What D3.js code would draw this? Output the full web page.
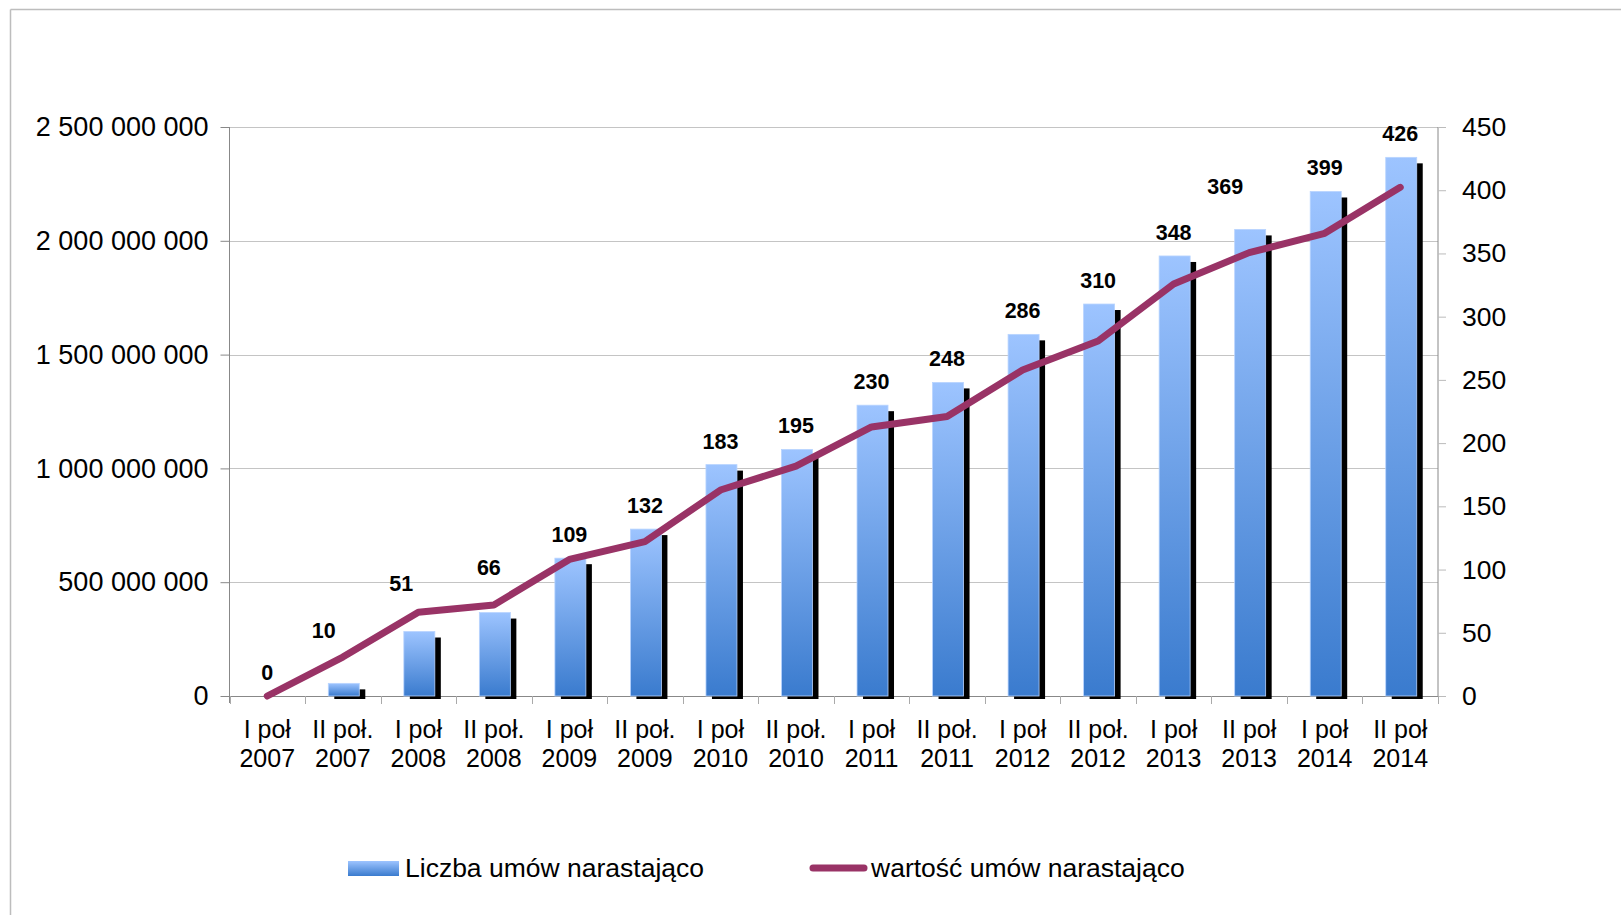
<!DOCTYPE html>
<html>
<head>
<meta charset="utf-8">
<script src="https://cdn.jsdelivr.net/npm/d3@7"></script>
<style>
  html, body { margin: 0; padding: 0; background: #fff; }
  svg { display: block; }
  text { font-family: "Liberation Sans", Arial, sans-serif; fill: #000; }
</style>
</head>
<body>
<svg id="chart" width="1621" height="915"></svg>
<script>
// ---- data ----
const categories = ["I poł 2007","II poł. 2007","I poł 2008","II poł. 2008","I poł 2009","II poł. 2009",
  "I poł 2010","II poł. 2010","I poł 2011","II poł. 2011","I poł 2012","II poł. 2012",
  "I poł 2013","II poł 2013","I poł 2014","II poł 2014"];
const liczbaUmow = [0,10,51,66,109,132,183,195,230,248,286,310,348,369,399,426];
const wartoscUmow = [0,171e6,368e6,400e6,600e6,678e6,905e6,1010e6,1182e6,1228e6,1432e6,1560e6,1810e6,1948e6,2033e6,2235e6];
const leftTicks = [0,500e6,1000e6,1500e6,2000e6,2500e6];
const rightTicks = [0,50,100,150,200,250,300,350,400,450];
const seriesNames = ["Liczba umów narastająco","wartość umów narastająco"];

// ---- layout / style ----
const svg = d3.select("#chart");
const plot = {left: 229.5, right: 1438, top: 127, bottom: 696};
// manual label nudges (px) as in the original
const labelNudge = {1: [-19,-29], 2: [-17,-25], 3: [-5,-22], 13: [-24,-19]};

const x = d3.scaleBand().domain(categories).range([plot.left, plot.right]).padding(0);
const yL = d3.scaleLinear().domain([0, 2500e6]).range([plot.bottom, plot.top]);
const yR = d3.scaleLinear().domain([0, 450]).range([plot.bottom, plot.top]);

const defs = svg.append("defs");
const grad = defs.append("linearGradient").attr("id","barGrad").attr("x1",0).attr("y1",0).attr("x2",0).attr("y2",1);
grad.append("stop").attr("offset","0%").attr("stop-color","#9DC4FF");
grad.append("stop").attr("offset","100%").attr("stop-color","#3A7BCE");

// outer frame
svg.append("line").attr("x1",10.5).attr("x2",1621).attr("y1",9.5).attr("y2",9.5).attr("stroke","#BDBDBD").attr("stroke-width",1.5);
svg.append("line").attr("x1",10.5).attr("x2",10.5).attr("y1",9.5).attr("y2",915).attr("stroke","#BDBDBD").attr("stroke-width",1.5);

// gridlines
svg.append("g").selectAll("line").data(leftTicks).join("line")
  .attr("x1", plot.left).attr("x2", plot.right)
  .attr("y1", d => Math.round(yL(d))+0.5).attr("y2", d => Math.round(yL(d))+0.5)
  .attr("stroke", "#C4C4C4").attr("stroke-width", 1);

// left axis
const axL = svg.append("g").attr("transform", `translate(${plot.left},0)`)
  .call(d3.axisLeft(yL).tickValues(leftTicks).tickSize(9).tickPadding(12)
    .tickFormat(d => d3.format(",")(d).replace(/,/g, " ")));
axL.select(".domain").attr("stroke","#888").attr("d", `M0,${plot.top}V${plot.bottom+7}`);
axL.selectAll(".tick line").attr("stroke","#888");
axL.selectAll(".tick text").attr("font-size", 27).attr("font-family","Liberation Sans, Arial, sans-serif").attr("fill","#000");

// right axis
const axR = svg.append("g").attr("transform", `translate(${plot.right},0)`)
  .call(d3.axisRight(yR).tickValues(rightTicks).tickSize(8).tickPadding(16));
axR.select(".domain").attr("stroke","#888").attr("d", `M0,${plot.top}V${plot.bottom}`);
axR.selectAll(".tick line").attr("stroke","#bbb");
axR.selectAll(".tick text").attr("font-size", 26.5).attr("font-family","Liberation Sans, Arial, sans-serif").attr("fill","#000");

// bottom axis
const axB = svg.append("g").attr("transform", `translate(0,${plot.bottom})`);
axB.append("line").attr("x1", plot.left).attr("x2", plot.right).attr("y1",0.5).attr("y2",0.5).attr("stroke","#888");
const bounds = categories.map(c => x(c)).concat([plot.right]);
axB.selectAll("line.tk").data(bounds).join("line").attr("class","tk")
  .attr("x1", d => Math.round(d)+0.5).attr("x2", d => Math.round(d)+0.5).attr("y1",0).attr("y2",8).attr("stroke","#aaa");
const catText = axB.selectAll("text.cat").data(categories).join("text").attr("class","cat")
  .attr("text-anchor","middle").attr("font-size",25)
  .attr("transform", d => `translate(${x(d)+x.bandwidth()/2},0)`);
catText.append("tspan").attr("x",0).attr("y",42).text(d => d.slice(0, d.lastIndexOf(" ")));
catText.append("tspan").attr("x",0).attr("y",71).text(d => d.slice(d.lastIndexOf(" ")+1));

// bars
const bw = 31, barOff = -14.5, sh = 6;
const data = categories.map((c,i) => ({c, i, n: liczbaUmow[i], v: wartoscUmow[i]}));
const bars = svg.append("g");
bars.selectAll("rect.shadow").data(data.filter(d => d.n > 0)).join("rect").attr("class","shadow")
  .attr("x", d => x(d.c)+x.bandwidth()/2+barOff+sh)
  .attr("y", d => yR(d.n)+sh)
  .attr("width", bw)
  .attr("height", d => yR(0)-yR(d.n)-sh+3)
  .attr("fill","#000");
bars.selectAll("rect.bar").data(data.filter(d => d.n > 0)).join("rect").attr("class","bar")
  .attr("x", d => x(d.c)+x.bandwidth()/2+barOff)
  .attr("y", d => yR(d.n))
  .attr("width", bw)
  .attr("height", d => yR(0)-yR(d.n))
  .attr("fill","url(#barGrad)")
  .attr("stroke","#B8D4FF").attr("stroke-width",0.8);

// line
const line = d3.line().x(d => x(d.c)+x.bandwidth()/2).y(d => yL(d.v));
svg.append("path").datum(data).attr("d", line).attr("fill","none")
  .attr("stroke","#993366").attr("stroke-width",7).attr("stroke-linejoin","round").attr("stroke-linecap","round");

// data labels
svg.append("g").selectAll("text").data(data).join("text")
  .attr("x", d => x(d.c)+x.bandwidth()/2 + (labelNudge[d.i] ? labelNudge[d.i][0] : 0))
  .attr("y", d => yR(d.n) - 16 + (labelNudge[d.i] ? labelNudge[d.i][1] : 0))
  .attr("text-anchor","middle").attr("font-size",21.5).attr("font-weight","bold")
  .text(d => d.n);

// legend
const lg = svg.append("g");
lg.append("rect").attr("x",348).attr("y",861).attr("width",51).attr("height",15).attr("fill","url(#barGrad)");
lg.append("text").attr("x",405).attr("y",877).attr("font-size",26.5).text(seriesNames[0]);
lg.append("line").attr("x1",813).attr("x2",864).attr("y1",868).attr("y2",868)
  .attr("stroke","#993366").attr("stroke-width",7).attr("stroke-linecap","round");
lg.append("text").attr("x",871).attr("y",877).attr("font-size",26.5).text(seriesNames[1]);
</script>
</body>
</html>
